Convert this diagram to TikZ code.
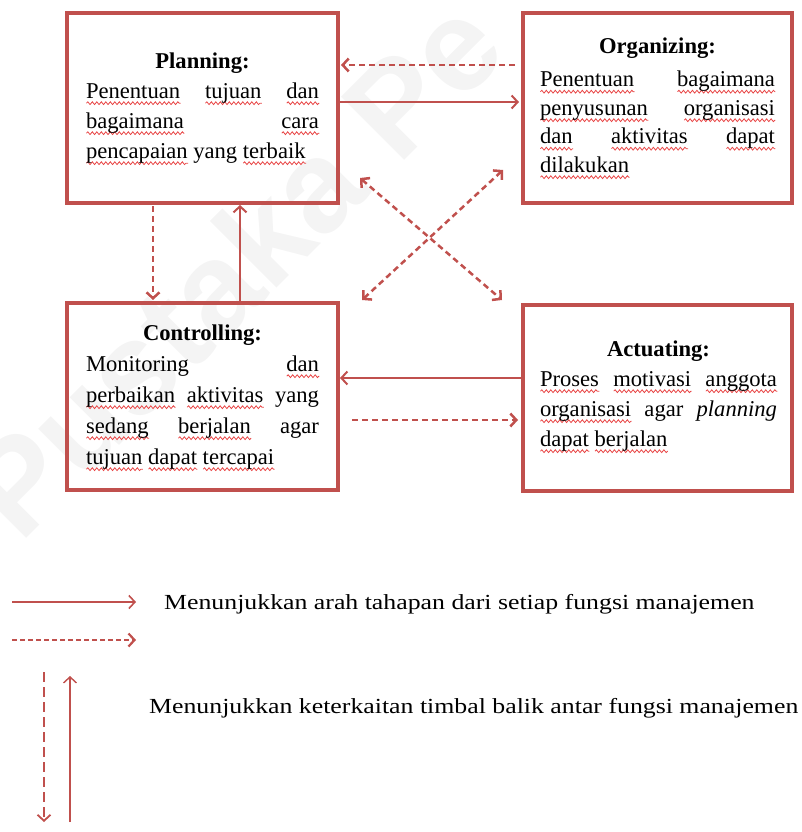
\documentclass[tikz,border=0pt]{standalone}
\usepackage{fontspec}
\setmainfont{Liberation Serif}
\newfontfamily\legendfont[FakeStretch=1.2]{Liberation Serif}
\newfontfamily\wmfont{Liberation Sans}
\usetikzlibrary{arrows.meta,calc,decorations.pathmorphing}

\definecolor{accent}{RGB}{192,80,77}
\definecolor{squig}{RGB}{232,70,70}

% red wavy underline for flagged words
\newsavebox\sqbox
\newcommand\sq[1]{\leavevmode\sbox\sqbox{#1}%
  \rlap{\tikz[baseline=0pt]\draw[squig, line width=0.8pt, solid,
      decorate, decoration={snake, segment length=4.5pt, amplitude=1.4pt}]
      (0pt,-5pt) -- (\wd\sqbox,-5pt);}%
  \usebox\sqbox}

\tikzset{
  boxframe/.style={draw=accent, line width=4pt, inner sep=0pt, outer sep=0pt, anchor=north west},
  boxtext/.style={anchor=north, inner sep=0pt, align=justify, font=\fontsize{22.6}{30}\selectfont},
  solidarrow/.style={draw=accent, line width=2pt, ->},
  dasharrow/.style={draw=accent, line width=2.5pt, dash pattern=on 6pt off 4pt, ->},
  legendtext/.style={anchor=base west, inner sep=0pt, font=\legendfont\fontsize{21.5}{26}\selectfont},
  watermark/.style={anchor=base west, inner sep=0pt, text=black, opacity=0.045, font=\wmfont\bfseries\fontsize{130}{130}\selectfont}
}

\begin{document}
\begin{tikzpicture}[x=1pt, y=-1pt, >={Straight Barb[length=6pt,width=13pt]}]
\useasboundingbox (0,0) rectangle (802,832);

% faint publisher watermark
\node[watermark, rotate=45] (wm) at (20,545) {Pustaka Pe};

% the four management functions
\node[boxframe, minimum width=271pt, minimum height=190pt] (plan) at (67,13) {};
\node[boxframe, minimum width=269pt, minimum height=190pt] (org)  at (523,13) {};
\node[boxframe, minimum width=271pt, minimum height=187pt] (ctrl) at (67,303) {};
\node[boxframe, minimum width=269pt, minimum height=186pt] (act)  at (523,305) {};

\node[boxtext, text width=233pt] (plantxt) at ($(plan.north)+(0,35)$) {%
  \makebox[\linewidth]{\rule{0pt}{20pt}\textbf{Planning:}}\par
  \sq{Penentuan} \sq{tujuan} \sq{dan}\linebreak
  \sq{bagaimana} \sq{cara}\linebreak
  \sq{pencapaian} yang \sq{terbaik}};

\node[boxtext, text width=235pt, font=\fontsize{22.6}{28.5}\selectfont] (orgtxt) at ($(org.north)+(0,20)$) {%
  \makebox[\linewidth]{\rule{0pt}{20pt}\textbf{Organizing:}}\par\vspace{5pt}
  \sq{Penentuan} \sq{bagaimana}\linebreak
  \sq{penyusunan} \sq{organisasi}\linebreak
  \sq{dan} \sq{aktivitas} \sq{dapat}\linebreak
  \sq{dilakukan}};

\node[boxtext, text width=233pt, font=\fontsize{22.6}{31}\selectfont] (ctrltxt) at ($(ctrl.north)+(0,17)$) {%
  \makebox[\linewidth]{\rule{0pt}{20pt}\textbf{Controlling:}}\par
  Monitoring \sq{dan}\linebreak
  \sq{perbaikan} \sq{aktivitas} yang\linebreak
  \sq{sedang} \sq{berjalan} agar\linebreak
  \sq{tujuan} \sq{dapat} \sq{tercapai}};

\node[boxtext, text width=237pt] (acttxt) at ($(act.north)+(1,31)$) {%
  \makebox[\linewidth]{\rule{0pt}{20pt}\textbf{Actuating:}}\par
  \sq{Proses} \sq{motivasi} \sq{anggota}\linebreak
  \sq{organisasi} agar \textit{planning}\linebreak
  \sq{dapat} \sq{berjalan}};

% connectors between the functions
\draw[dasharrow]  ($(org.west)+(-8,-43)$)   -- ($(plan.east)+(3,-43)$);
\draw[solidarrow] ($(plan.east)+(2,-6)$)    -- ($(org.west)+(-4,-6)$);
\draw[dasharrow]  ($(plan.south)+(-49.5,3)$) -- ($(ctrl.north)+(-49.5,-3)$);
\draw[solidarrow] ($(ctrl.north)+(37.5,-2)$) -- ($(plan.south)+(37.5,2)$);
\draw[dasharrow, <->] ($(plan.south east)+(22,-25)$) -- ($(act.north west)+(-21,-5)$);
\draw[dasharrow, <->] ($(ctrl.north east)+(24,-3)$)  -- ($(org.south west)+(-20,-33)$);
\draw[solidarrow] ($(act.west)+(0,-20)$)    -- ($(ctrl.east)+(2,-18.5)$);
\draw[dasharrow]  ($(ctrl.east)+(14,23.5)$) -- ($(act.west)+(-5,22)$);

% legend
\coordinate (l1a) at (12,602);  \coordinate (l1b) at (136,602);
\coordinate (l2a) at (12,640);  \coordinate (l2b) at (136,640);
\coordinate (l3a) at (44,672);  \coordinate (l3b) at (44,822);
\coordinate (l4a) at (70,822);  \coordinate (l4b) at (70,676);
\draw[solidarrow, line width=1.6pt] (l1a) -- (l1b);
\draw[dasharrow, line width=2.2pt, dash pattern=on 5pt off 3pt] (l2a) -- (l2b);
\draw[dasharrow, line width=1.8pt, dash pattern=on 10pt off 5pt] (l3a) -- (l3b);
\draw[solidarrow, line width=1.4pt] (l4a) -- (l4b);
\node[legendtext] (t1) at (164,609) {Menunjukkan arah tahapan dari setiap fungsi manajemen};
\node[legendtext] (t2) at (149,713) {Menunjukkan keterkaitan timbal balik antar fungsi manajemen};
\end{tikzpicture}
\end{document}
